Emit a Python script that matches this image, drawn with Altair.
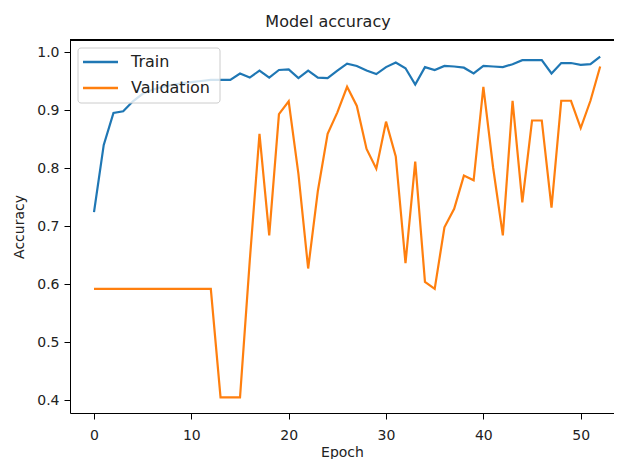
import altair as alt
import pandas as pd

epochs = list(range(53))
train_acc = [
    0.724, 0.840, 0.895, 0.898, 0.915, 0.928, 0.935, 0.940, 0.943, 0.946,
    0.948, 0.950, 0.952, 0.952, 0.952, 0.963, 0.956, 0.968, 0.956, 0.969,
    0.970, 0.955, 0.968, 0.956, 0.955, 0.968, 0.980, 0.976, 0.968, 0.962,
    0.974, 0.982, 0.972, 0.944, 0.974, 0.969, 0.976, 0.975, 0.973, 0.963,
    0.976, 0.975, 0.974, 0.979, 0.986, 0.986, 0.986, 0.963, 0.981, 0.981,
    0.978, 0.979, 0.992,
]
val_acc = [
    0.592, 0.592, 0.592, 0.592, 0.592, 0.592, 0.592, 0.592, 0.592, 0.592,
    0.592, 0.592, 0.592, 0.405, 0.405, 0.405, 0.640, 0.859, 0.684, 0.893,
    0.915, 0.790, 0.627, 0.761, 0.859, 0.896, 0.940, 0.907, 0.833, 0.799,
    0.880, 0.820, 0.636, 0.811, 0.604, 0.592, 0.698, 0.730, 0.787, 0.779,
    0.940, 0.801, 0.684, 0.916, 0.741, 0.882, 0.882, 0.732, 0.916, 0.916,
    0.869, 0.916, 0.975,
]
series_names = ["Train", "Validation"]
series_colors = ["#1f77b4", "#ff7f0e"]
x_ticks = [0, 10, 20, 30, 40, 50]
y_ticks = [0.4, 0.5, 0.6, 0.7, 0.8, 0.9, 1.0]

df = pd.DataFrame({
    "Epoch": epochs + epochs,
    "Accuracy": train_acc + val_acc,
    "Series": [series_names[0]] * len(epochs) + [series_names[1]] * len(epochs),
})

W, H = 544, 373
FONT = "DejaVu Sans"

lines = alt.Chart(df).mark_line(strokeWidth=2.2).encode(
    x=alt.X("Epoch:Q",
            scale=alt.Scale(domain=[-2.466, 53.42], nice=False, zero=False),
            axis=alt.Axis(values=x_ticks, title="Epoch", format="d")),
    y=alt.Y("Accuracy:Q",
            scale=alt.Scale(domain=[0.378, 1.0207], nice=False, zero=False),
            axis=alt.Axis(values=y_ticks, title="Accuracy", format=".1f")),
    color=alt.Color("Series:N",
                    scale=alt.Scale(domain=series_names, range=series_colors),
                    legend=None),
    order="Epoch:Q",
)

top_spine = alt.Chart(df).mark_rule(color="#000000", strokeWidth=1).encode(
    x=alt.value(0), x2=alt.value(W), y=alt.value(0)
)

# legend (matplotlib-style box in upper left)
legend_df = pd.DataFrame({"Series": series_names})
legend_box = alt.Chart(legend_df.head(1)).mark_rect(
    fill="#ffffff", fillOpacity=0.8, stroke="#cccccc", strokeWidth=1,
    cornerRadius=3,
).encode(x=alt.value(8), x2=alt.value(150), y=alt.value(8), y2=alt.value(63))

legend_layers = []
for i, (name, col) in enumerate(zip(series_names, series_colors)):
    ypos = 22 + 26 * i
    sub = legend_df[legend_df["Series"] == name]
    legend_layers.append(
        alt.Chart(sub).mark_rule(color=col, strokeWidth=2.5).encode(
            x=alt.value(13), x2=alt.value(48), y=alt.value(ypos))
    )
    legend_layers.append(
        alt.Chart(sub).mark_text(align="left", baseline="middle", font=FONT,
                                 fontSize=16, color="#222222").encode(
            x=alt.value(61), y=alt.value(ypos), text="Series:N")
    )

chart = alt.layer(lines, top_spine, legend_box, *legend_layers).properties(
    width=W, height=H,
    autosize=alt.AutoSizeParams(type="none"),
    padding={"left": 62, "top": 32, "right": 0, "bottom": 46},
    title=alt.TitleParams("Model accuracy", font=FONT, fontSize=16,
                          fontWeight="normal", color="#222222",
                          offset=10, dx=-14),
).configure_view(stroke=None).configure_axis(
    grid=False, domainColor="#000000", domainWidth=1,
    tickColor="#000000", tickSize=6, tickWidth=1,
    labelFont=FONT, labelFontSize=14, labelColor="#222222",
    titleFont=FONT, titleFontSize=14, titleFontWeight="normal",
    titleColor="#222222", labelPadding=5,
).configure_axisY(titlePadding=10).configure_axisX(titlePadding=3, labelPadding=9)

chart.save("out.html", embed_options={"renderer": "svg", "actions": False})
